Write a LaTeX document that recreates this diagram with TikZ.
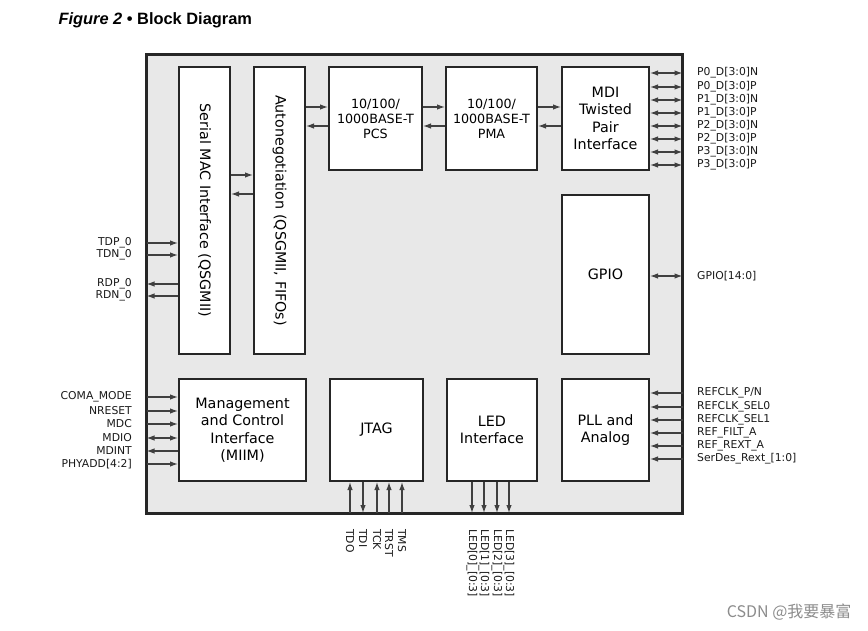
\documentclass[tikz,border=0pt]{standalone}
\usepackage{fontspec}
\setmainfont{DejaVu Sans}
\newfontfamily\titlefont{Liberation Sans}
\newfontfamily\cjkfont{Noto Sans CJK SC}
\usetikzlibrary{arrows.meta}

\begin{document}
\begin{tikzpicture}[x=1pt,y=-1pt]
\useasboundingbox (0,0) rectangle (868,631);

\node[anchor=west] (title) at (55,20) {\titlefont\fontsize{16.4}{19}\selectfont\bfseries\itshape Figure 2 \upshape{\textbullet} Block Diagram};
\node[anchor=east, text=black!45] (mark) at (855,612) {\cjkfont\fontsize{16}{19}\selectfont CSDN @我要暴富};

\node[draw=black!85, line width=3pt, fill=black!9, minimum width=536pt, minimum height=458pt, inner sep=0pt, outer sep=0pt] (chip) at (414.5,284) {};

\begin{scope}[every node/.style={draw=black!85, line width=2pt, fill=white, align=center, inner sep=0pt, font=\fontsize{14.3}{17.5}\selectfont}]
    \node[minimum width=51pt, minimum height=287pt] (smi) at (204.5,210.5) {\rotatebox{-90}{Serial MAC Interface (QSGMII)}};
    \node[minimum width=51pt, minimum height=287pt] (aneg) at (279.5,210.5) {\rotatebox{-90}{Autonegotiation (QSGMII, FIFOs)}};
    \node[minimum width=93pt, minimum height=103pt, font=\fontsize{12.7}{15}\selectfont] (pcs) at (375.5,118.5) {10/100/\\1000BASE-T\\PCS};
    \node[minimum width=91pt, minimum height=103pt, font=\fontsize{12.7}{15}\selectfont] (pma) at (491.5,118.5) {10/100/\\1000BASE-T\\PMA};
    \node[minimum width=87pt, minimum height=103pt] (mdi) at (605.5,118.5) {MDI\\Twisted\\Pair\\Interface};
    \node[minimum width=87pt, minimum height=159pt] (gpio) at (605.5,274.5) {GPIO};
    \node[minimum width=127pt, minimum height=102pt] (mgmt) at (242.5,430) {Management\\and Control\\Interface\\(MIIM)};
    \node[minimum width=93pt, minimum height=102pt] (jtag) at (376.5,430) {JTAG};
    \node[minimum width=90pt, minimum height=102pt] (led) at (492,430) {LED\\Interface};
    \node[minimum width=87pt, minimum height=102pt] (pll) at (605.5,430) {PLL and\\Analog};
\end{scope}

\begin{scope}[every node/.style={text=black!90, inner sep=1pt, font=\fontsize{10.8}{13}\selectfont}]
    % serdes side
    \node[anchor=east] (tdp) at (133,243) {TDP\_0};
    \node[anchor=east] (tdn) at (133,255) {TDN\_0};
    \node[anchor=east] (rdp) at (133,284) {RDP\_0};
    \node[anchor=east] (rdn) at (133,296) {RDN\_0};
    % management
    \node[anchor=east] (coma) at (133,397) {COMA\_MODE};
    \node[anchor=east] (nreset) at (133,411) {NRESET};
    \node[anchor=east] (mdc) at (133,424) {MDC};
    \node[anchor=east] (mdio) at (133,438) {MDIO};
    \node[anchor=east] (mdint) at (133,451) {MDINT};
    \node[anchor=east] (phyadd) at (133,464) {PHYADD[4:2]};
    % media side
    \node[anchor=west] (p0n) at (696,73) {P0\_D[3:0]N};
    \node[anchor=west] (p0p) at (696,87) {P0\_D[3:0]P};
    \node[anchor=west] (p1n) at (696,100) {P1\_D[3:0]N};
    \node[anchor=west] (p1p) at (696,113) {P1\_D[3:0]P};
    \node[anchor=west] (p2n) at (696,126) {P2\_D[3:0]N};
    \node[anchor=west] (p2p) at (696,139) {P2\_D[3:0]P};
    \node[anchor=west] (p3n) at (696,152) {P3\_D[3:0]N};
    \node[anchor=west] (p3p) at (696,165) {P3\_D[3:0]P};
    \node[anchor=west] (gpins) at (696,276) {GPIO[14:0]};
    % clocks
    \node[anchor=west] (refclk) at (696,393) {REFCLK\_P/N};
    \node[anchor=west] (sel0) at (696,407) {REFCLK\_SEL0};
    \node[anchor=west] (sel1) at (696,420) {REFCLK\_SEL1};
    \node[anchor=west] (filt) at (696,433) {REF\_FILT\_A};
    \node[anchor=west] (rext) at (696,446) {REF\_REXT\_A};
    \node[anchor=west] (sdrext) at (696,459) {SerDes\_Rext\_[1:0]};
    % bottom
    \node[rotate=-90, anchor=west] (tdo) at (350,528) {TDO};
    \node[rotate=-90, anchor=west] (tdi) at (363,528) {TDI};
    \node[rotate=-90, anchor=west] (tck) at (377,528) {TCK};
    \node[rotate=-90, anchor=west] (trst) at (389,528) {TRST};
    \node[rotate=-90, anchor=west] (tms) at (402,528) {TMS};
    \node[rotate=-90, anchor=west] (led0) at (472,528) {LED[0]\_[0:3]};
    \node[rotate=-90, anchor=west] (led1) at (484,528) {LED[1]\_[0:3]};
    \node[rotate=-90, anchor=west] (led2) at (497,528) {LED[2]\_[0:3]};
    \node[rotate=-90, anchor=west] (led3) at (509,528) {LED[3]\_[0:3]};
\end{scope}

\begin{scope}[>={Latex[length=8pt,width=5.5pt]}, every path/.style={draw=black!75, line width=1.2pt}]
    % internal data path
    \draw[->] (smi.east |- 0,175) -- (aneg.west |- 0,175);
    \draw[<-] (smi.east |- 0,194) -- (aneg.west |- 0,194);
    \draw[->] (aneg.east |- 0,107) -- (pcs.west |- 0,107);
    \draw[<-] (aneg.east |- 0,126) -- (pcs.west |- 0,126);
    \draw[->] (pcs.east |- 0,107) -- (pma.west |- 0,107);
    \draw[<-] (pcs.east |- 0,126) -- (pma.west |- 0,126);
    \draw[->] (pma.east |- 0,107) -- (mdi.west |- 0,107);
    \draw[<-] (pma.east |- 0,126) -- (mdi.west |- 0,126);

    \draw[->] (chip.west |- tdp) -- (smi.west |- tdp);
    \draw[->] (chip.west |- tdn) -- (smi.west |- tdn);
    \draw[<-] (chip.west |- rdp) -- (smi.west |- rdp);
    \draw[<-] (chip.west |- rdn) -- (smi.west |- rdn);

    \draw[->] (chip.west |- coma) -- (mgmt.west |- coma);
    \draw[->] (chip.west |- nreset) -- (mgmt.west |- nreset);
    \draw[->] (chip.west |- mdc) -- (mgmt.west |- mdc);
    \draw[<->] (chip.west |- mdio) -- (mgmt.west |- mdio);
    \draw[<-] (chip.west |- mdint) -- (mgmt.west |- mdint);
    \draw[->] (chip.west |- phyadd) -- (mgmt.west |- phyadd);

    \draw[<->] (mdi.east |- p0n) -- (chip.east |- p0n);
    \draw[<->] (mdi.east |- p0p) -- (chip.east |- p0p);
    \draw[<->] (mdi.east |- p1n) -- (chip.east |- p1n);
    \draw[<->] (mdi.east |- p1p) -- (chip.east |- p1p);
    \draw[<->] (mdi.east |- p2n) -- (chip.east |- p2n);
    \draw[<->] (mdi.east |- p2p) -- (chip.east |- p2p);
    \draw[<->] (mdi.east |- p3n) -- (chip.east |- p3n);
    \draw[<->] (mdi.east |- p3p) -- (chip.east |- p3p);
    \draw[<->] (gpio.east |- gpins) -- (chip.east |- gpins);

    \draw[->] (chip.east |- refclk) -- (pll.east |- refclk);
    \draw[->] (chip.east |- sel0) -- (pll.east |- sel0);
    \draw[->] (chip.east |- sel1) -- (pll.east |- sel1);
    \draw[->] (chip.east |- filt) -- (pll.east |- filt);
    \draw[->] (chip.east |- rext) -- (pll.east |- rext);
    \draw[->] (chip.east |- sdrext) -- (pll.east |- sdrext);

    \draw[->] (chip.south -| tdo) -- (jtag.south -| tdo);
    \draw[<-] (chip.south -| tdi) -- (jtag.south -| tdi);
    \draw[->] (chip.south -| tck) -- (jtag.south -| tck);
    \draw[->] (chip.south -| trst) -- (jtag.south -| trst);
    \draw[->] (chip.south -| tms) -- (jtag.south -| tms);

    \draw[->] (led.south -| led0) -- (chip.south -| led0);
    \draw[->] (led.south -| led1) -- (chip.south -| led1);
    \draw[->] (led.south -| led2) -- (chip.south -| led2);
    \draw[->] (led.south -| led3) -- (chip.south -| led3);
\end{scope}
\end{tikzpicture}
\end{document}
